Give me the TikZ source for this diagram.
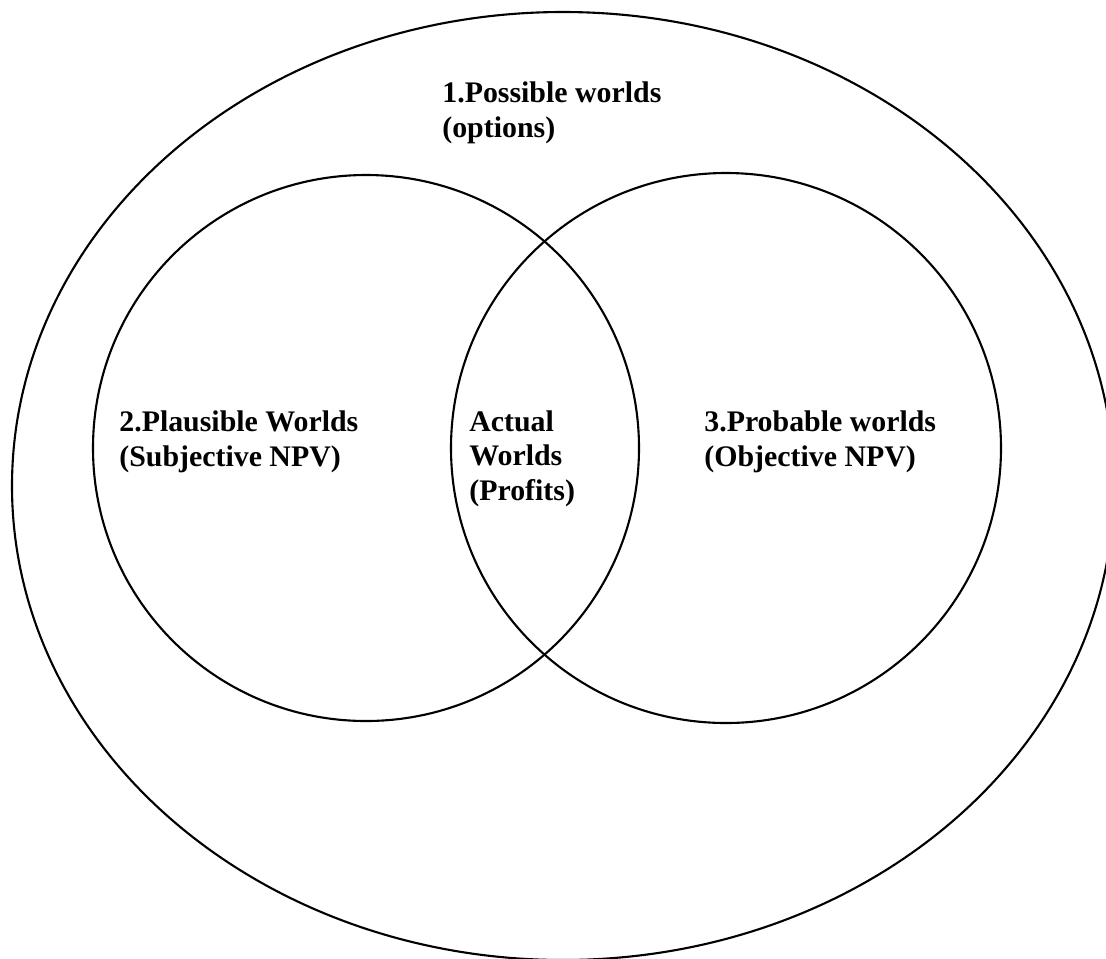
\documentclass[tikz,border=0pt]{standalone}
\usepackage{fontspec}
\setmainfont{Liberation Serif}
\usetikzlibrary{positioning}
\tikzset{
    world/.style={draw=black,line width=1.2pt},
    worldlabel/.style={font=\fontsize{17}{19.4}\selectfont\bfseries,align=left,inner sep=0pt,anchor=base west}
}

\begin{document}
\begin{tikzpicture}[x=0.02cm,y=-0.02cm]
\useasboundingbox (0,0) rectangle (1106,958);

% Outer set and the two overlapping sets
\draw[world] (563,486) ellipse [x radius=551,y radius=474];
\draw[world] (366,448) circle [radius=273];
\draw[world] (726,448) circle [radius=275];

% Labels (anchored at the baseline of the last line)
\node[worldlabel] (possible) at (442,137) {1.Possible worlds\\(options)};
\node[worldlabel] (plausible) at (119,466) {2.Plausible Worlds\\(Subjective NPV)};
\node[worldlabel] (actual) at (469,500) {Actual\\Worlds\\(Profits)};
\node[worldlabel] (probable) at (704,466) {3.Probable worlds\\(Objective NPV)};

\end{tikzpicture}
\end{document}
